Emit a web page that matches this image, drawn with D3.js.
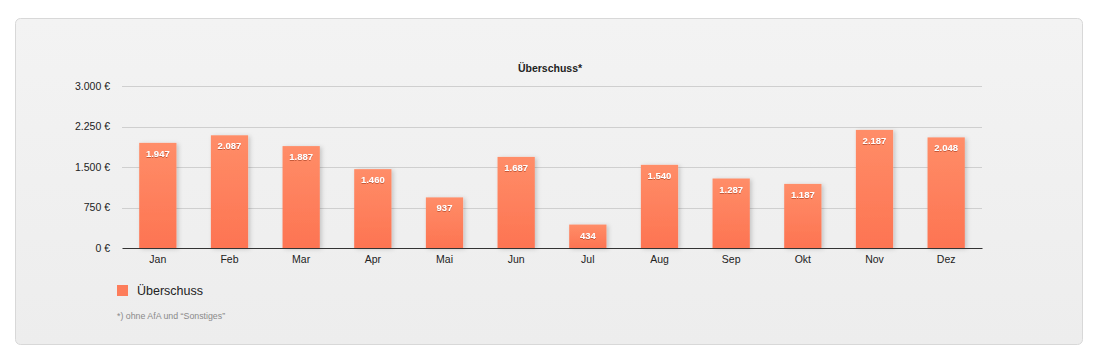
<!DOCTYPE html>
<html>
<head>
<meta charset="utf-8">
<script src="https://cdn.jsdelivr.net/npm/d3@7"></script>
<style>
  body { margin: 0; background: #fff; font-family: "Liberation Sans", Arial, sans-serif; }
</style>
</head>
<body>
<div id="chart"></div>
<script>
// Daten
const months = ["Jan", "Feb", "Mar", "Apr", "Mai", "Jun", "Jul", "Aug", "Sep", "Okt", "Nov", "Dez"];
const surplus = [1947, 2087, 1887, 1460, 937, 1687, 434, 1540, 1287, 1187, 2187, 2048];
const yTicks = [0, 750, 1500, 2250, 3000];
const seriesName = "Überschuss";

const width = 1100, height = 361;
const plot = { left: 122, right: 982, top: 86, bottom: 248 };

const svg = d3.select("#chart").append("svg")
  .attr("width", width)
  .attr("height", height);

const defs = svg.append("defs");
const grad = defs.append("linearGradient")
  .attr("id", "barGrad").attr("x1", 0).attr("y1", 0).attr("x2", 0).attr("y2", 1);
grad.append("stop").attr("offset", "0%").attr("stop-color", "#ff8d68");
grad.append("stop").attr("offset", "100%").attr("stop-color", "#fd7452");

const bgGrad = defs.append("linearGradient")
  .attr("id", "bgGrad").attr("x1", 0).attr("y1", 0).attr("x2", 0).attr("y2", 1);
bgGrad.append("stop").attr("offset", "0%").attr("stop-color", "#f3f3f3");
bgGrad.append("stop").attr("offset", "100%").attr("stop-color", "#ededed");

const shadow = defs.append("filter").attr("id", "barShadow")
  .attr("x", "-20%").attr("y", "-10%").attr("width", "150%").attr("height", "130%");
shadow.append("feDropShadow")
  .attr("dx", 2).attr("dy", 1).attr("stdDeviation", 2)
  .attr("flood-color", "#000").attr("flood-opacity", 0.18);

const textShadow = defs.append("filter").attr("id", "txtShadow");
textShadow.append("feDropShadow")
  .attr("dx", 0).attr("dy", 1).attr("stdDeviation", 0.5)
  .attr("flood-color", "#a03a20").attr("flood-opacity", 0.6);

// Hintergrund-Panel
svg.append("rect")
  .attr("x", 15.5).attr("y", 18.5)
  .attr("width", 1067).attr("height", 326)
  .attr("rx", 5)
  .attr("fill", "url(#bgGrad)")
  .attr("stroke", "#d8d8d8");

const x = d3.scaleBand()
  .domain(months)
  .range([plot.left, plot.right])
  .paddingInner(0.48)
  .paddingOuter(0.24);

const y = d3.scaleLinear()
  .domain([0, 3000])
  .range([plot.bottom, plot.top]);

const fmt = d3.formatLocale({ decimal: ",", thousands: ".", grouping: [3], currency: ["", " €"] });
const numFmt = fmt.format(",.0f");

// Gitterlinien
svg.append("g")
  .selectAll("line")
  .data(yTicks.filter(d => d > 0))
  .enter()
  .append("line")
  .attr("x1", plot.left).attr("x2", plot.right)
  .attr("y1", d => Math.round(y(d)) + 0.5).attr("y2", d => Math.round(y(d)) + 0.5)
  .attr("stroke", "#cfcfcf");

// Y-Achse
const yAxis = svg.append("g")
  .attr("transform", `translate(${plot.left - 12},0)`)
  .call(d3.axisLeft(y).tickValues(yTicks).tickSize(0).tickPadding(0)
    .tickFormat(d => numFmt(d) + " €"));
yAxis.select(".domain").remove();
yAxis.selectAll("text")
  .attr("font-family", "Liberation Sans, Arial, sans-serif")
  .attr("font-size", "10.5px")
  .attr("fill", "#222");

// Balken
svg.append("g")
  .selectAll("rect")
  .data(surplus)
  .enter()
  .append("rect")
  .attr("x", (d, i) => x(months[i]))
  .attr("y", d => y(d))
  .attr("width", x.bandwidth())
  .attr("height", d => y(0) - y(d))
  .attr("fill", "url(#barGrad)")
  .attr("filter", "url(#barShadow)");

// Werte
svg.append("g")
  .selectAll("text")
  .data(surplus)
  .enter()
  .append("text")
  .attr("x", (d, i) => x(months[i]) + x.bandwidth() / 2)
  .attr("y", d => y(d) + 14)
  .attr("text-anchor", "middle")
  .attr("font-size", "9.5px")
  .attr("font-weight", "bold")
  .attr("fill", "#fff")
  .attr("filter", "url(#txtShadow)")
  .text(d => numFmt(d));

// X-Achse
const xAxis = svg.append("g")
  .attr("transform", `translate(0,${plot.bottom})`)
  .call(d3.axisBottom(x).tickSize(0).tickPadding(8));
xAxis.select(".domain").attr("stroke", "#333").attr("stroke-width", 1.2);
xAxis.selectAll("text")
  .attr("font-family", "Liberation Sans, Arial, sans-serif")
  .attr("font-size", "10.5px")
  .attr("fill", "#222");

// Titel
svg.append("text")
  .attr("x", (plot.left + plot.right) / 2 - 2)
  .attr("y", 72)
  .attr("text-anchor", "middle")
  .attr("font-size", "10.5px")
  .attr("font-weight", "bold")
  .attr("fill", "#222")
  .text(seriesName + "*");

// Legende
const legend = svg.append("g").attr("transform", "translate(117,285)");
legend.append("rect")
  .attr("width", 11).attr("height", 11)
  .attr("fill", "#fd7d5b");
legend.append("text")
  .attr("x", 20).attr("y", 10)
  .attr("font-size", "12.5px")
  .attr("fill", "#222")
  .text(seriesName);

svg.append("text")
  .attr("x", 117).attr("y", 319)
  .attr("font-size", "8.8px")
  .attr("fill", "#8a8a8a")
  .text("*) ohne AfA und \u201cSonstiges\u201d");
</script>
</body>
</html>
